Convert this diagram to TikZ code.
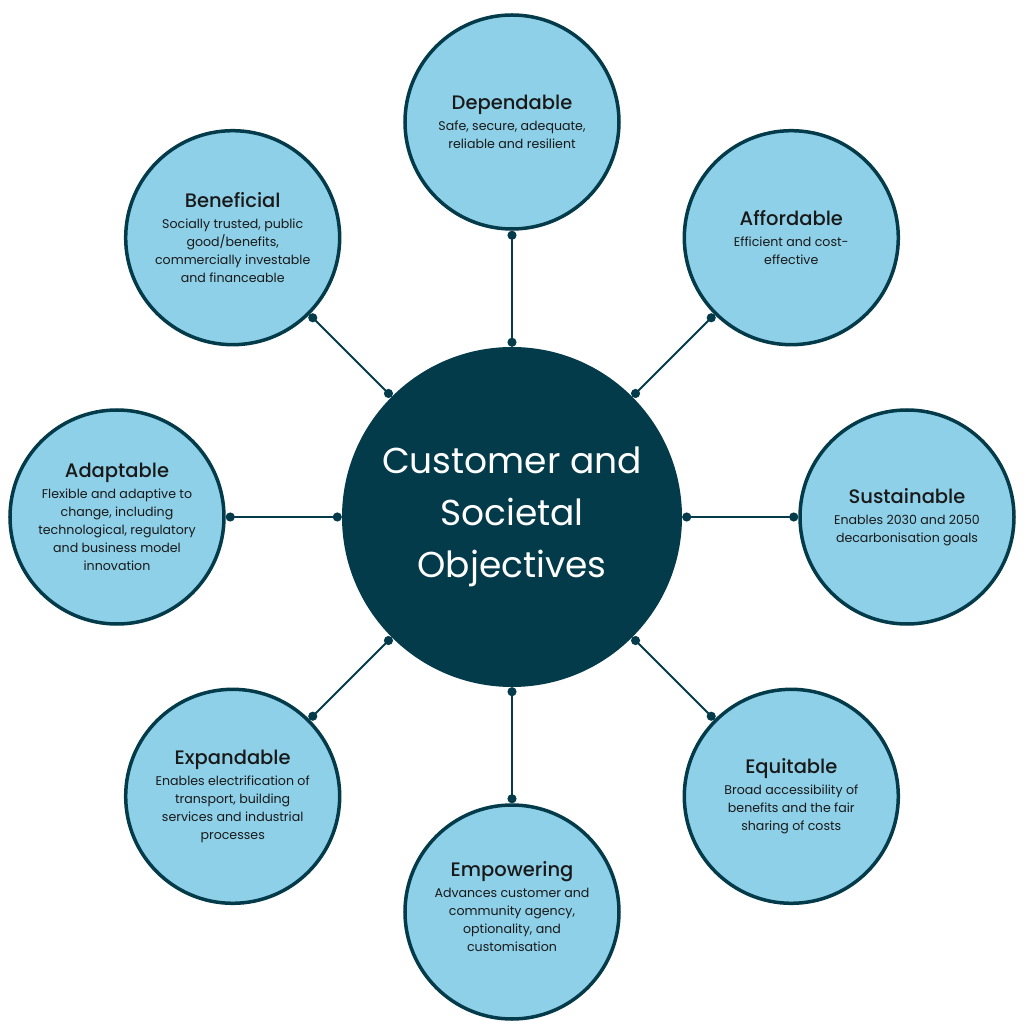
\documentclass[tikz,border=0pt]{standalone}
\usepackage{fontspec}
\setmainfont{Poppins}
\newfontfamily\titlefont{Poppins Medium}
\usetikzlibrary{arrows.meta}
\definecolor{deepteal}{HTML}{033B4A}
\definecolor{skyblue}{HTML}{8ED0E8}
\newcommand\hd[1]{{\titlefont\fontsize{19.5}{23}\selectfont #1}\\[3pt]}

\begin{document}
\begin{tikzpicture}[x=1pt,y=1pt]
    \def\R{395}

    \useasboundingbox (-512,-507) rectangle (512,517);

    \tikzstyle{core}=[circle,fill=deepteal,minimum size=340pt,inner sep=0pt,text=white,align=center,font=\fontsize{36}{52}\selectfont]
    \tikzstyle{goal}=[circle,draw=deepteal,line width=3.5pt,fill=skyblue,minimum size=214pt,inner sep=0pt,align=center,text=black!90,font=\fontsize{12.6}{18}\selectfont]

    \node[core] (obj) at (0,0) {Customer and\\Societal\\Objectives};

    \node[goal] (dep) at (90:\R) {\hd{Dependable}Safe, secure, adequate,\\reliable and resilient};
    \node[goal] (aff) at (45:\R) {\hd{Affordable}Efficient and cost-\\effective};
    \node[goal] (sus) at (0:\R) {\hd{Sustainable}Enables 2030 and 2050\\decarbonisation goals};
    \node[goal] (equ) at (-45:\R) {\hd{Equitable}Broad accessibility of\\benefits and the fair\\sharing of costs};
    \node[goal,text depth=12pt] (emp) at (-90:\R) {\hd{Empowering}Advances customer and\\community agency,\\optionality, and\\customisation};
    \node[goal] (exp) at (-135:\R) {\hd{Expandable}Enables electrification of\\transport, building\\services and industrial\\processes};
    \node[goal] (ada) at (180:\R) {\hd{Adaptable}Flexible and adaptive to\\change, including\\technological, regulatory\\and business model\\innovation};
    \node[goal] (ben) at (135:\R) {\hd{Beneficial}Socially trusted, public\\good/benefits,\\commercially investable\\and financeable};

    \tikzstyle{link} = [draw=deepteal, line width=2pt, {Circle[length=9pt]}-{Circle[length=9pt]}]

          \draw [link] (obj) -- (dep);
          \draw [link] (obj) -- (aff);
          \draw [link] (obj) -- (sus);
          \draw [link] (obj) -- (equ);
          \draw [link] (obj) -- (emp);
          \draw [link] (obj) -- (exp);
          \draw [link] (obj) -- (ada);
          \draw [link] (obj) -- (ben);
  \end{tikzpicture}
\end{document}
